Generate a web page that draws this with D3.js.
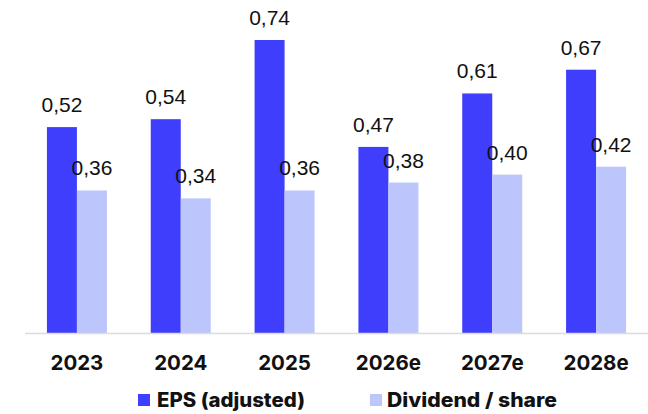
<!DOCTYPE html>
<html><head><meta charset="utf-8">
<script src="https://cdn.jsdelivr.net/npm/d3@7"></script>
<style>body{margin:0;background:#fff}svg{display:block}</style>
</head><body>
<script>
const categories = ["2023","2024","2025","2026e","2027e","2028e"];
const eps = [0.52,0.54,0.74,0.47,0.605,0.665];
const dividend = [0.36,0.34,0.36,0.38,0.40,0.42];
const epsLabels = ["0,52","0,54","0,74","0,47","0,61","0,67"];
const dividendLabels = ["0,36","0,34","0,36","0,38","0,40","0,42"];
const seriesNames = ["EPS (adjusted)","Dividend / share"];
const colors = ["#3e3efc","#bcc6fc"];

const W=648,H=414;
const svg=d3.select("body").append("svg").attr("width",W).attr("height",H);
const x=d3.scaleBand().domain(categories).range([25,648]);
const y=d3.scaleLinear().domain([0,0.74]).range([333,40]);
const barW=30;

const series=[eps,dividend];
const labels=[epsLabels,dividendLabels];
series.forEach((vals,si)=>{
  const g=svg.append("g");
  g.selectAll("rect").data(categories).join("rect")
    .attr("x",c=>x(c)+x.bandwidth()/2-barW+si*barW)
    .attr("y",(c,i)=>y(vals[i]))
    .attr("width",barW)
    .attr("height",(c,i)=>y(0)-y(vals[i]))
    .attr("fill",colors[si]);
  g.selectAll("text").data(categories).join("text")
    .attr("x",c=>x(c)+x.bandwidth()/2-barW/2+si*barW)
    .attr("y",(c,i)=>y(vals[i])-15)
    .attr("text-anchor","middle")
    .attr("font-family","Liberation Sans, Arial, sans-serif")
    .attr("font-size",21)
    .attr("fill","#111")
    .text((c,i)=>labels[si][i]);
});

svg.append("line").attr("x1",25).attr("x2",648).attr("y1",333.5).attr("y2",333.5)
  .attr("stroke","#dcdcdc").attr("stroke-width",1.5);

svg.append("g").selectAll("text").data(categories).join("text")
  .attr("x",c=>x(c)+x.bandwidth()/2)
  .attr("y",370)
  .attr("text-anchor","middle")
  .attr("font-family","Inter, sans-serif")
  .attr("font-weight","bold")
  .attr("font-size",20.5)
  .attr("fill","#111")
  .text(c=>c);

const legX=[138,370], legTX=[157,387], legLen=[148,170];
seriesNames.forEach((n,i)=>{
  svg.append("rect").attr("x",legX[i]).attr("y",394).attr("width",12).attr("height",12).attr("fill",colors[i]);
  svg.append("text").attr("x",legTX[i]).attr("y",407)
    .attr("font-family","Inter, sans-serif").attr("font-weight","800")
    .attr("font-size",19.5).attr("fill","#111")
    .attr("textLength",legLen[i]).attr("lengthAdjust","spacingAndGlyphs")
    .text(n);
});
</script>
</body></html>
